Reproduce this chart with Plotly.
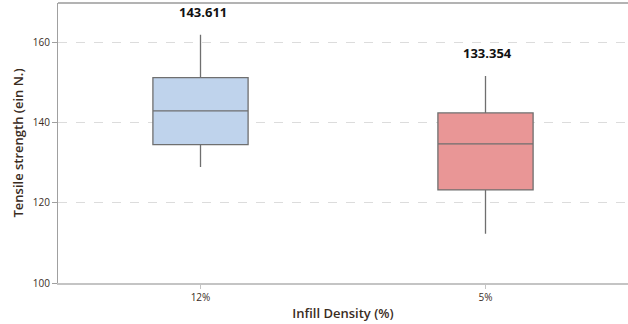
import plotly.graph_objects as go

# Box statistics per infill density
categories = ["12%", "5%"]
lower_fence = [128.9, 112.3]
q1 = [134.5, 123.2]
median = [142.9, 134.7]
q3 = [151.2, 142.4]
upper_fence = [161.9, 151.6]
means = [143.611, 133.354]
fill_colors = ["#bfd3ec", "#e99696"]

TEXT = "#3a2c1e"
FONT = "Open Sans"

fig = go.Figure()
for i, cat in enumerate(categories):
    fig.add_trace(go.Box(
        x=[cat],
        q1=[q1[i]], median=[median[i]], q3=[q3[i]],
        lowerfence=[lower_fence[i]], upperfence=[upper_fence[i]],
        fillcolor=fill_colors[i],
        line=dict(color="#6f6f6f", width=1.3),
        whiskerwidth=0,
        width=0.334,
        boxpoints=False,
        showlegend=False,
        hoverinfo="skip",
    ))
    fig.add_annotation(
        x=cat, y=upper_fence[i], text=f"<b>{means[i]:.3f}</b>",
        showarrow=False, yanchor="bottom", yshift=12, xshift=2,
        font=dict(family=FONT, size=13, color="#111111"),
    )

# darker frame line along the top of the plot area
fig.add_shape(type="line", xref="paper", yref="paper", x0=0, x1=1, y0=1, y1=1,
              line=dict(color="#9a9a9a", width=1.5))

fig.update_layout(
    width=628, height=324,
    margin=dict(l=58, r=0, t=3, b=41),
    paper_bgcolor="white", plot_bgcolor="white",
    font=dict(family=FONT, color=TEXT),
    xaxis=dict(
        type="category", range=[-0.5, 1.5],
        showline=True, linecolor="#c4c4c4", linewidth=2,
        ticks="outside", ticklen=4, tickcolor="#c4c4c4",
        tickfont=dict(size=10, color=TEXT),
        title=dict(text="Infill Density (%)",
                   font=dict(size=13, color=TEXT, weight=600), standoff=6),
        showgrid=False,
    ),
    yaxis=dict(
        range=[100, 169.8],
        tickvals=[100, 120, 140, 160],
        showline=True, linecolor="#a0a0a0", linewidth=1,
        ticks="outside", ticklen=5, tickcolor="#a0a0a0",
        tickfont=dict(size=10, color=TEXT),
        showgrid=True, gridcolor="#dcdcdc", griddash="dash", gridwidth=1,
        zeroline=False,
        title=dict(text="Tensile strength (ein N.)",
                   font=dict(size=13, color=TEXT, weight=600), standoff=6),
    ),
)

fig.write_html("out.html")
